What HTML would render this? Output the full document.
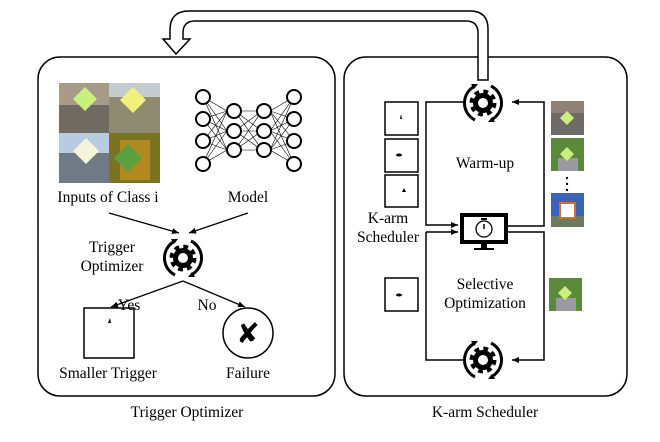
<!DOCTYPE html>
<html><head><meta charset="utf-8"><style>
html,body{margin:0;padding:0;background:#fff}
svg{display:block}
text{font-family:"Liberation Serif",serif;font-size:15.5px;fill:#000}
</style></head><body>
<svg width="660" height="442" viewBox="0 0 660 442" xmlns="http://www.w3.org/2000/svg">
<defs>
<marker id="ah" markerWidth="8" markerHeight="8" refX="7" refY="4" orient="auto" markerUnits="userSpaceOnUse">
<path d="M0,1 L7,4 L0,7 Z" fill="#000"/></marker>
<g id="gear">
<circle r="10" fill="none" stroke="#000" stroke-width="7" stroke-dasharray="4.2 3.65"/>
<circle r="10" fill="#000"/>
<circle r="5" fill="#fff"/>
<path d="M-8,-17 A19,19 0 0 0 -8,17" fill="none" stroke="#000" stroke-width="3"/>
<path d="M8,17 A19,19 0 0 0 8,-17" fill="none" stroke="#000" stroke-width="3"/>
<path d="M-12,-19 L-5,-19 L-9,-14 Z" fill="#000"/>
<path d="M12,19 L5,19 L9,14 Z" fill="#000"/>
</g>
</defs>

<rect x="38" y="57" width="297" height="339" rx="22" fill="none" stroke="#000" stroke-width="1.5"/>
<rect x="344" y="57" width="283" height="339" rx="22" fill="none" stroke="#000" stroke-width="1.5"/>

<path d="M478,80 L478,33 Q478,21 466,21 L195,21 Q183,21 183,33 L183,39 L190,39 L176,54 L163,39 L170,39 L170,30 Q170,11 189,11 L470,11 Q488,11 488,29 L488,80 Z" fill="#fff" stroke="#000" stroke-width="1.5"/>

<rect x="59" y="83" width="50" height="50" fill="#6f6a62"/>
<rect x="59" y="83" width="50" height="22" fill="#a89a88"/>
<rect x="109" y="83" width="51" height="50" fill="#8f8a72"/>
<rect x="109" y="83" width="51" height="14" fill="#c4cccf"/>
<rect x="59" y="133" width="50" height="50" fill="#707a84"/>
<rect x="59" y="133" width="50" height="20" fill="#b9cbe0"/>
<rect x="109" y="133" width="51" height="50" fill="#7a7420"/>
<rect x="120" y="140" width="30" height="40" fill="#b08a20"/>
<path d="M85,87 L97,99 L85,111 L73,99Z" fill="#c8f07a"/>
<path d="M133,87 L146,100 L133,113 L120,100Z" fill="#f0f07a"/>
<path d="M86,138 L99,151 L86,164 L73,151Z" fill="#f4f4d8"/>
<path d="M128,144 L142,158 L128,172 L114,158Z" fill="#5aa040"/>

<g stroke="#000" stroke-width="0.6" fill="none">
<path d="M203,97 L227,111 M203,97 L227,131 M203,97 L227,150 M203,119 L227,111 M203,119 L227,131 M203,119 L227,150 M203,141 L227,111 M203,141 L227,131 M203,141 L227,150 M203,164 L227,111 M203,164 L227,131 M203,164 L227,150"/>
<path d="M235,111 L262,111 M235,111 L262,131 M235,111 L262,150 M235,131 L262,111 M235,131 L262,131 M235,131 L262,150 M235,150 L262,111 M235,150 L262,131 M235,150 L262,150"/>
<path d="M270,111 L294,97 M270,111 L294,119 M270,111 L294,141 M270,111 L294,164 M270,131 L294,97 M270,131 L294,119 M270,131 L294,141 M270,131 L294,164 M270,150 L294,97 M270,150 L294,119 M270,150 L294,141 M270,150 L294,164"/>
</g>
<g fill="#fff" stroke="#000" stroke-width="2">
<circle cx="203" cy="97" r="7"/><circle cx="203" cy="119" r="7"/><circle cx="203" cy="141" r="7"/><circle cx="203" cy="164" r="7"/>
<circle cx="234" cy="111" r="7"/><circle cx="234" cy="131" r="7"/><circle cx="234" cy="150" r="7"/>
<circle cx="264" cy="111" r="7"/><circle cx="264" cy="131" r="7"/><circle cx="264" cy="150" r="7"/>
<circle cx="294" cy="97" r="7"/><circle cx="294" cy="119" r="7"/><circle cx="294" cy="141" r="7"/><circle cx="294" cy="164" r="7"/>
</g>

<text x="108" y="202" text-anchor="middle">Inputs of Class i</text>
<text x="248" y="202" text-anchor="middle">Model</text>
<line x1="109" y1="213" x2="179" y2="233" stroke="#000" stroke-width="1.3" marker-end="url(#ah)"/>
<line x1="248" y1="213" x2="189" y2="233" stroke="#000" stroke-width="1.3" marker-end="url(#ah)"/>
<use href="#gear" x="183" y="258"/>
<text x="112" y="252" text-anchor="middle">Trigger</text>
<text x="112" y="271" text-anchor="middle">Optimizer</text>
<line x1="183" y1="281" x2="111" y2="307" stroke="#000" stroke-width="1.3" marker-end="url(#ah)"/>
<line x1="183" y1="281" x2="245" y2="307" stroke="#000" stroke-width="1.3" marker-end="url(#ah)"/>
<text x="129" y="310" text-anchor="middle">Yes</text>
<text x="207" y="310" text-anchor="middle">No</text>
<rect x="84" y="308" width="50" height="50" fill="none" stroke="#000" stroke-width="1.5"/>
<path d="M108,323 L110,318 L111,323Z" fill="#000"/>
<circle cx="248" cy="333" r="25" fill="none" stroke="#000" stroke-width="1.5"/>
<text x="248" y="343" text-anchor="middle" style="font-size:28px;font-weight:bold;font-family:'DejaVu Sans',sans-serif">✘</text>
<text x="108" y="378" text-anchor="middle">Smaller Trigger</text>
<text x="248" y="378" text-anchor="middle">Failure</text>
<text x="187" y="417" text-anchor="middle">Trigger Optimizer</text>

<g fill="none" stroke="#000" stroke-width="1.5">
<path d="M463,102 L426,102 L426,225 L458,225" marker-end="url(#ah)"/>
<path d="M426,232 L458,232" marker-end="url(#ah)"/>
<path d="M508,226 L544,226 L544,102 L512,102" marker-end="url(#ah)"/>
<path d="M508,232 L544,232 L544,360 L512,360" marker-end="url(#ah)"/>
<path d="M463,360 L426,360 L426,232"/>
</g>
<use href="#gear" x="483" y="103"/>
<use href="#gear" x="483" y="360"/>
<rect x="460" y="213" width="48" height="31" fill="#000"/>
<rect x="464" y="217" width="40" height="23" fill="#fff"/>
<circle cx="484" cy="229" r="8" fill="none" stroke="#000" stroke-width="1.3"/>
<line x1="484" y1="224" x2="484" y2="229" stroke="#000" stroke-width="1.5"/>
<rect x="481" y="218" width="6" height="2" fill="#000"/>
<rect x="481" y="244" width="6" height="5" fill="#000"/>
<rect x="474" y="248" width="20" height="2" fill="#000"/>

<text x="485" y="168" text-anchor="middle">Warm-up</text>
<text x="485" y="289" text-anchor="middle">Selective</text>
<text x="485" y="308" text-anchor="middle">Optimization</text>
<text x="388" y="223" text-anchor="middle">K-arm</text>
<text x="388" y="242" text-anchor="middle">Scheduler</text>

<g fill="none" stroke="#000" stroke-width="1.5">
<rect x="385" y="102" width="33" height="33"/>
<rect x="385" y="139" width="33" height="33"/>
<rect x="385" y="175" width="33" height="32"/>
<rect x="385" y="278" width="33" height="33"/>
</g>
<path d="M400,119 L401,114 L402,119Z" fill="#000"/>
<ellipse cx="399" cy="155" rx="3" ry="1.5" fill="#000"/>
<path d="M402,192 L404,188 L406,192Z" fill="#000"/>
<ellipse cx="399" cy="295" rx="3" ry="1.5" fill="#000"/>

<rect x="551" y="101" width="33" height="34" fill="#6d6a68"/>
<rect x="551" y="101" width="33" height="12" fill="#8f8078"/>
<path d="M567,111 L574,118 L567,125 L560,118Z" fill="#c8f07a"/>
<rect x="551" y="138" width="33" height="33" fill="#5b8a3c"/>
<rect x="558" y="158" width="20" height="13" fill="#9a9aa0"/>
<path d="M567,147 L574,154 L567,161 L560,154Z" fill="#c8f07a"/>
<circle cx="567" cy="178" r="1.2" fill="#000"/><circle cx="567" cy="184" r="1.2" fill="#000"/><circle cx="567" cy="190" r="1.2" fill="#000"/>
<rect x="551" y="193" width="33" height="34" fill="#3d63b8"/>
<rect x="551" y="216" width="33" height="11" fill="#6b7a60"/>
<rect x="560" y="203" width="15" height="15" fill="#fff" stroke="#d0702a" stroke-width="2"/>
<rect x="549" y="278" width="33" height="33" fill="#5b8a3c"/>
<rect x="556" y="298" width="20" height="13" fill="#9a9aa0"/>
<path d="M565,286 L572,293 L565,300 L558,293Z" fill="#c8f07a"/>

<text x="485" y="417" text-anchor="middle">K-arm Scheduler</text>
</svg>
</body></html>
